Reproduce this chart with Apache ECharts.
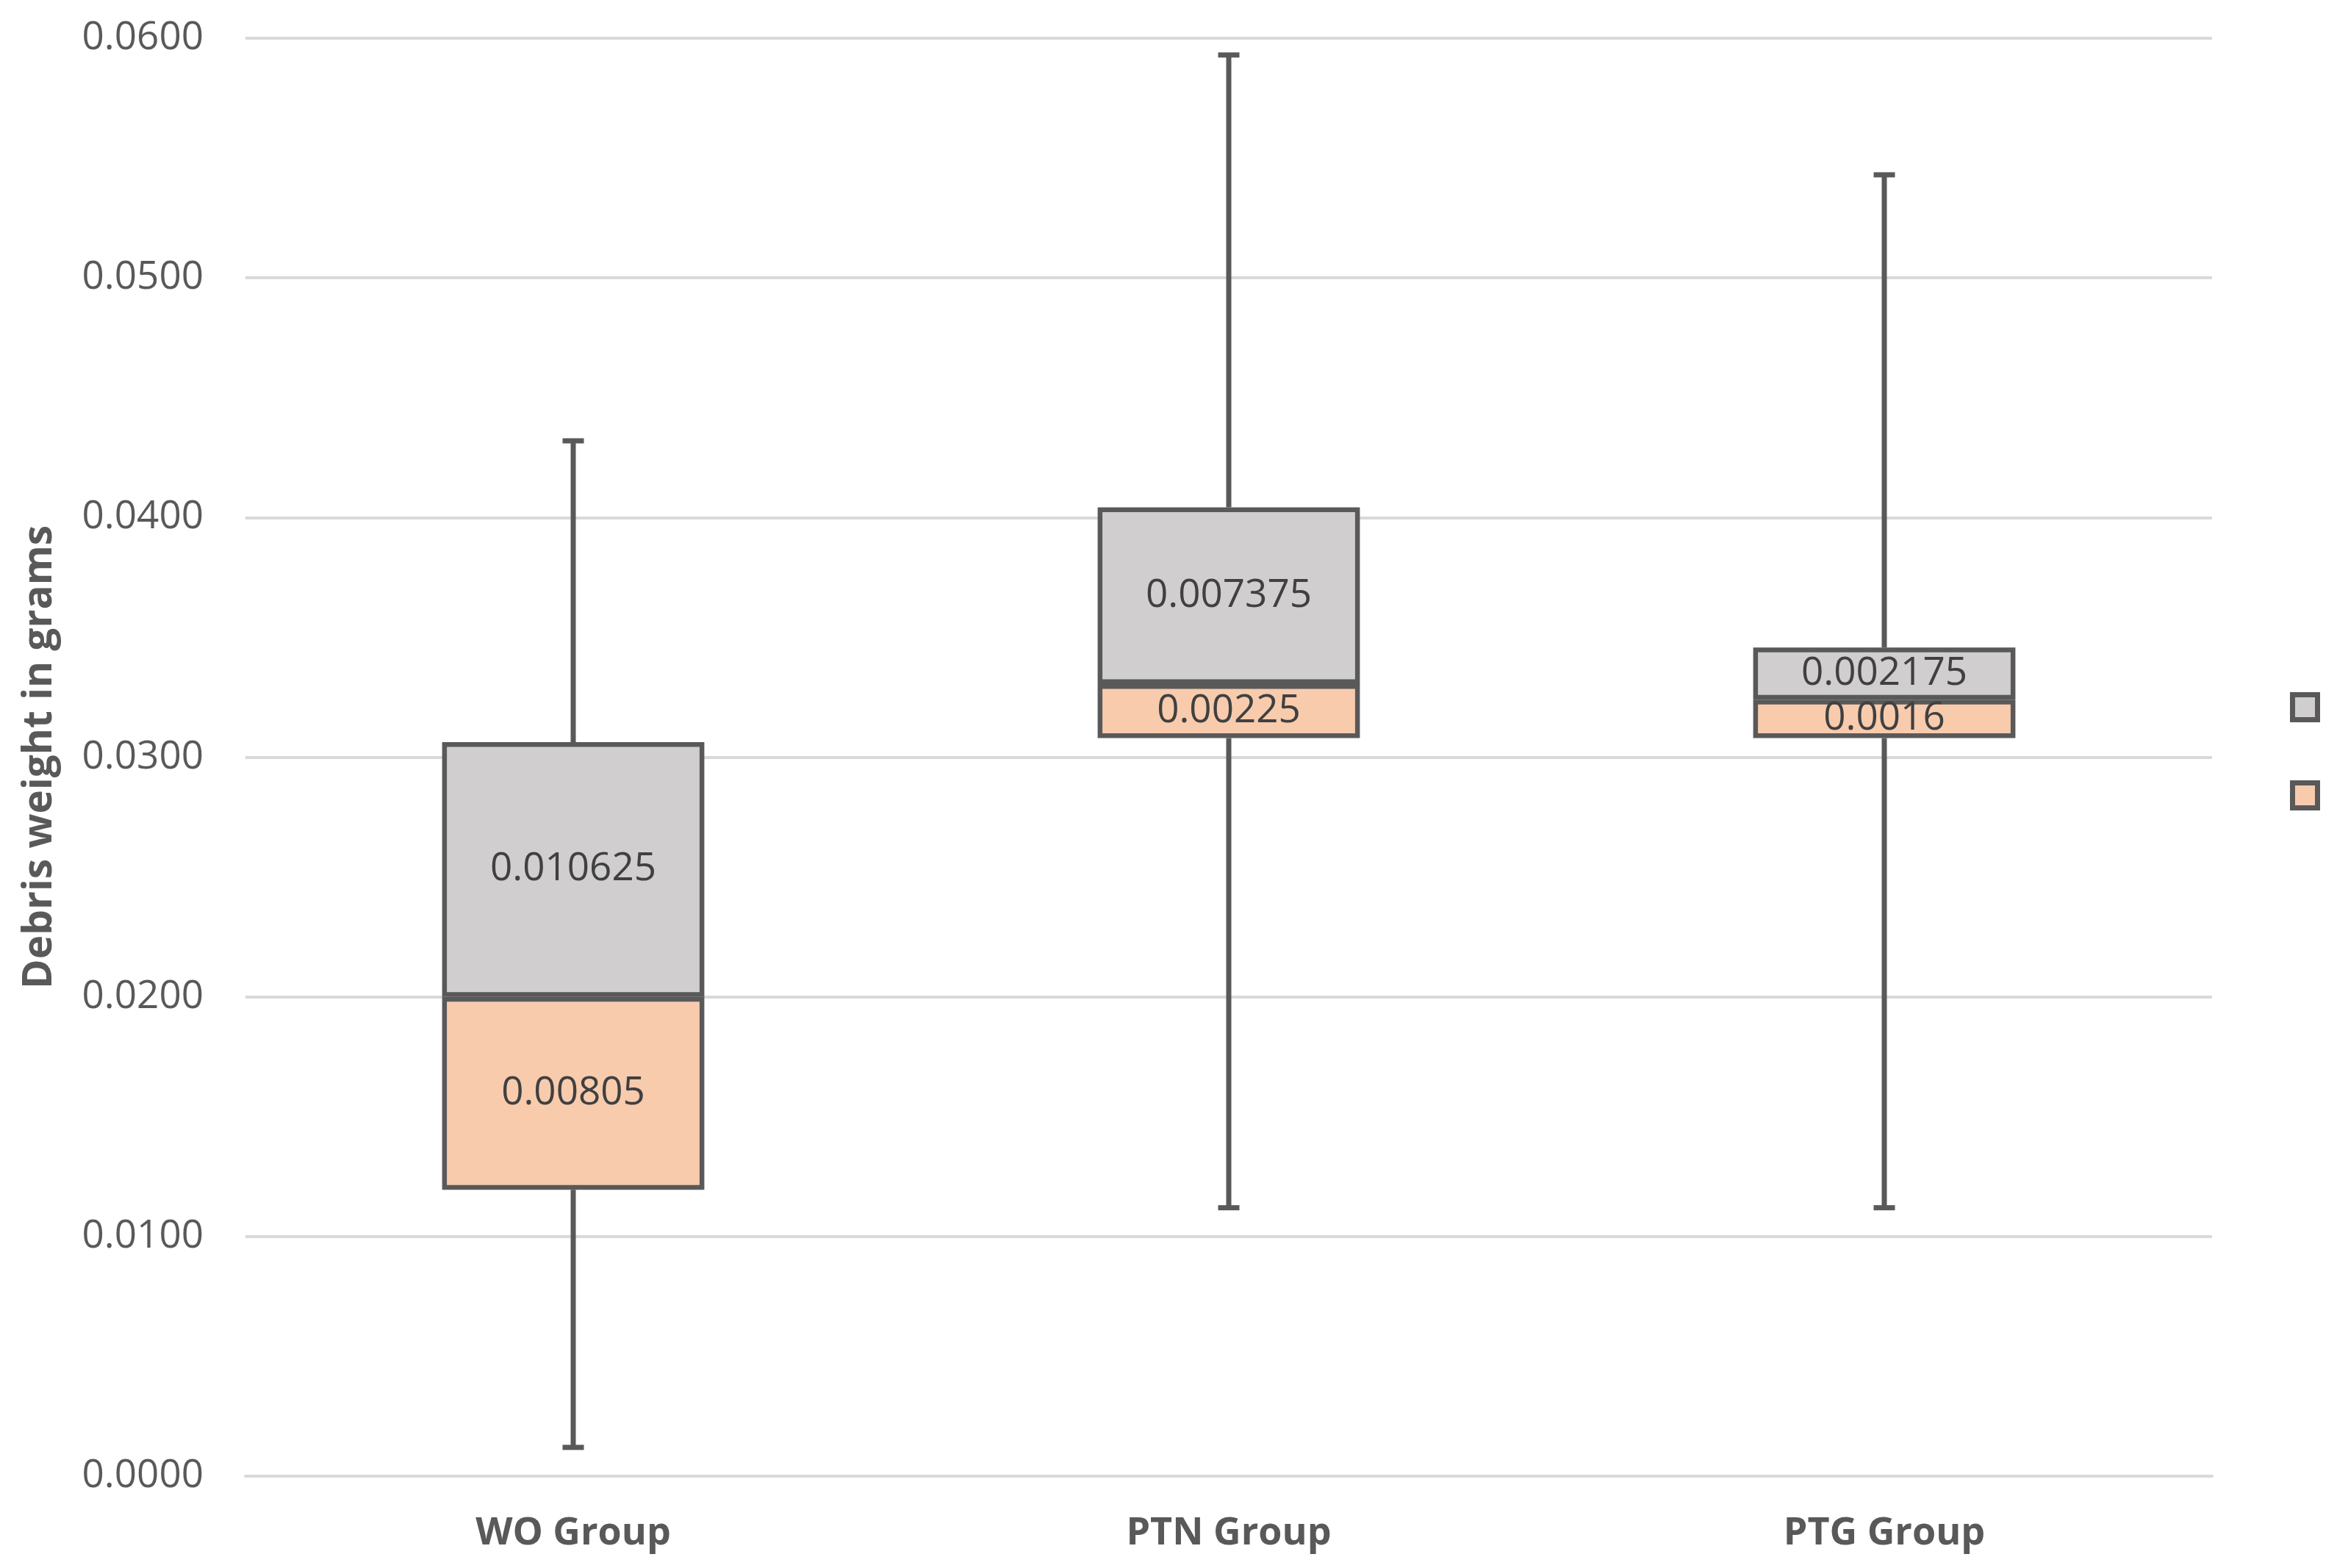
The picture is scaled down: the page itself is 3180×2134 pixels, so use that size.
<!DOCTYPE html>
<html>
<head>
<meta charset="utf-8">
<script src="https://cdn.jsdelivr.net/npm/echarts@6/dist/echarts.min.js"></script>
<style>
html,body{margin:0;padding:0;background:#fff;}
#chart{width:3180px;height:2134px;}
</style>
</head>
<body>
<div id="chart"></div>
<script>
// Data
const categories = ['WO Group', 'PTN Group', 'PTG Group'];
const minValues = [0.0012, 0.0112, 0.0112];
const q1Values = [0.01195, 0.0308, 0.0308];
const lowerSegment = [0.00805, 0.00225, 0.0016];      // median - Q1
const upperSegment = [0.010625, 0.007375, 0.002175];  // Q3 - median
const maxValues = [0.0432, 0.0593, 0.0543];
const yTicks = { min: 0, max: 0.06, interval: 0.01 };

const FONT = '"Open Sans", "Noto Sans", sans-serif';
const EDGE = '#595959';

const q3Values = q1Values.map((q, i) => q + lowerSegment[i] + upperSegment[i]);
const whiskerData = categories.map((c, i) => [i, minValues[i], q1Values[i], q3Values[i], maxValues[i]]);

const chart = echarts.init(document.getElementById('chart'), null, { renderer: 'canvas' });

const segLabel = {
  show: true,
  position: 'inside',
  color: '#404040',
  fontFamily: FONT,
  fontSize: 53,
  formatter: p => String(p.value)
};

chart.setOption({
  animation: false,
  backgroundColor: '#ffffff',
  grid: { left: 334, right: 170, top: 52, bottom: 125, containLabel: false },
  legend: {
    orient: 'vertical',
    left: 3116,
    top: 942,
    padding: 0,
    itemWidth: 34,
    itemHeight: 34,
    itemGap: 79,
    icon: 'rect',
    data: ['Q3 - Median', 'Median - Q1'],
    formatter: () => '',
    itemStyle: { borderColor: EDGE, borderWidth: 7 },
    selectedMode: false
  },
  xAxis: {
    type: 'category',
    data: categories,
    axisTick: { show: false },
    axisLine: { show: true, lineStyle: { color: '#D9D9D9', width: 4 } },
    axisLabel: { color: EDGE, fontFamily: FONT, fontSize: 52, fontWeight: 'bold', margin: 52 }
  },
  yAxis: {
    type: 'value',
    min: yTicks.min,
    max: yTicks.max,
    interval: yTicks.interval,
    name: 'Debris weight in grams',
    nameLocation: 'middle',
    nameGap: 252,
    nameTextStyle: { color: EDGE, fontFamily: FONT, fontSize: 55, fontWeight: 'bold' },
    axisLine: { show: false },
    axisTick: { show: false },
    axisLabel: { color: EDGE, fontFamily: FONT, fontSize: 53, margin: 57, formatter: v => v.toFixed(4) },
    splitLine: { lineStyle: { color: '#D9D9D9', width: 4 } }
  },
  series: [
    {
      name: 'whiskers',
      type: 'custom',
      z: 1,
      silent: true,
      data: whiskerData,
      encode: { x: 0, y: [1, 2, 3, 4] },
      renderItem: function (params, api) {
        const x = api.value(0);
        const pMin = api.coord([x, api.value(1)]);
        const pQ1 = api.coord([x, api.value(2)]);
        const pQ3 = api.coord([x, api.value(3)]);
        const pMax = api.coord([x, api.value(4)]);
        const half = 14.5;
        const st = { stroke: EDGE, lineWidth: 7 };
        return {
          type: 'group',
          children: [
            { type: 'line', shape: { x1: pMax[0], y1: pMax[1], x2: pQ3[0], y2: pQ3[1] }, style: st },
            { type: 'line', shape: { x1: pQ1[0], y1: pQ1[1], x2: pMin[0], y2: pMin[1] }, style: st },
            { type: 'line', shape: { x1: pMax[0] - half, y1: pMax[1], x2: pMax[0] + half, y2: pMax[1] }, style: st },
            { type: 'line', shape: { x1: pMin[0] - half, y1: pMin[1], x2: pMin[0] + half, y2: pMin[1] }, style: st }
          ]
        };
      }
    },
    {
      name: 'base',
      type: 'bar',
      stack: 'box',
      z: 2,
      silent: true,
      barWidth: '40%',
      itemStyle: { color: 'rgba(0,0,0,0)' },
      data: q1Values
    },
    {
      name: 'Median - Q1',
      type: 'bar',
      stack: 'box',
      z: 2,
      barWidth: '40%',
      itemStyle: { color: '#F8CBAD', borderColor: EDGE, borderWidth: 6.5 },
      label: segLabel,
      data: lowerSegment
    },
    {
      name: 'Q3 - Median',
      type: 'bar',
      stack: 'box',
      z: 2,
      barWidth: '40%',
      itemStyle: { color: '#D0CECF', borderColor: EDGE, borderWidth: 6.5 },
      label: segLabel,
      data: upperSegment
    }
  ]
});
</script>
</body>
</html>
